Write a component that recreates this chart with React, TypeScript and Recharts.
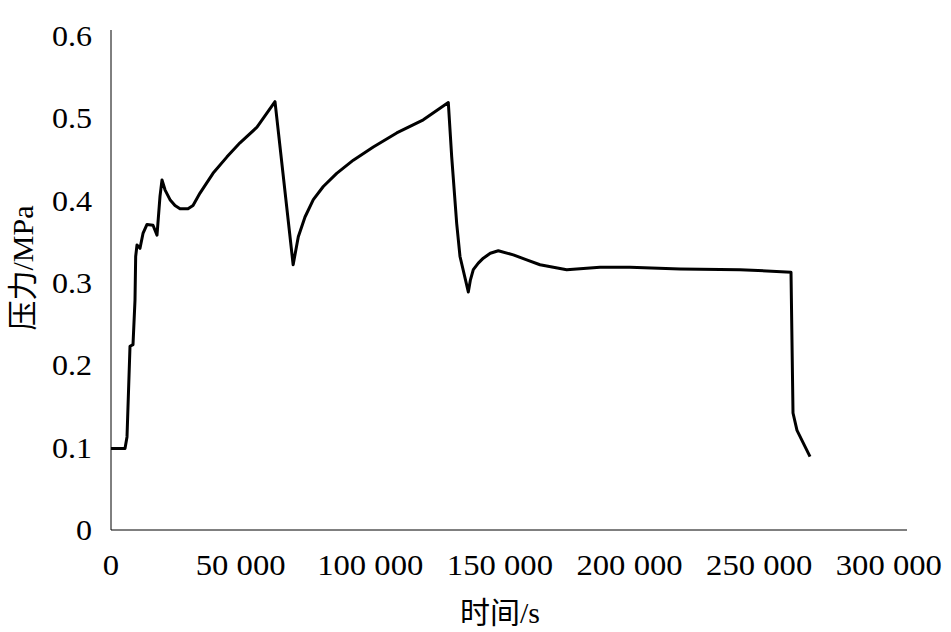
import React from 'react';
import { LineChart, Line, XAxis, YAxis, Label } from 'recharts';

const timeS = [0, 5399, 6171, 7328, 8485, 9256, 9517, 10028, 11185, 12342, 13885, 16199, 17742, 18898, 19670, 20827, 22755, 24684, 26612, 29698, 31626, 34326, 39340, 44739, 49753, 56309, 63251, 70250, 72238, 74823, 78024, 81881, 87049, 93451, 101165, 110189, 120448, 130090, 131402, 133330, 134603, 137804, 138575, 139732, 141661, 143589, 146289, 149374, 155160, 160328, 165457, 175755, 188598, 200167, 219457, 242595, 262264, 263036, 264578, 269592];
const pressureMPa = [0.099, 0.099, 0.113, 0.223, 0.225, 0.279, 0.332, 0.346, 0.342, 0.36, 0.371, 0.37, 0.358, 0.405, 0.425, 0.413, 0.401, 0.394, 0.39, 0.39, 0.394, 0.409, 0.433, 0.453, 0.47, 0.489, 0.52, 0.322, 0.356, 0.38, 0.401, 0.417, 0.433, 0.449, 0.465, 0.482, 0.498, 0.519, 0.453, 0.372, 0.332, 0.289, 0.303, 0.316, 0.324, 0.33, 0.336, 0.339, 0.334, 0.328, 0.322, 0.316, 0.319, 0.319, 0.317, 0.316, 0.313, 0.142, 0.121, 0.089];
const xTicks = [0, 50000, 100000, 150000, 200000, 250000, 300000];
const yTicks = [0, 0.1, 0.2, 0.3, 0.4, 0.5, 0.6];
const xLabel = '时间/s';
const yLabel = '压力/MPa';

const data = timeS.map((t, i) => ({ t, p: pressureMPa[i] }));

const SERIF = 'Liberation Serif';
const LABEL_FONT = "Liberation Serif, Noto Sans CJK SC";

const fmtX = (v: number) => (v === 0 ? '0' : `${Math.round(v / 1000)} 000`);
const fmtY = (v: number) => (v === 0 ? '0' : String(Math.round(v * 10) / 10));

const XTick = (props: any) => {
  const { x, y, payload } = props;
  const ty = y + 45;
  return (
    <text
      x={x}
      y={ty}
      textAnchor="middle"
      fontSize={30}
      fontFamily={SERIF}
      fill="#000"
      transform={`translate(${x} ${ty}) scale(1.09 1) translate(${-x} ${-ty})`}
    >
      {fmtX(payload.value)}
    </text>
  );
};

const YTick = (props: any) => {
  const { x, y, payload } = props;
  const tx = x - 19;
  const ty = y + 10;
  return (
    <text
      x={tx}
      y={ty}
      textAnchor="end"
      fontSize={30}
      fontFamily={SERIF}
      fill="#000"
      transform={`translate(${tx} ${ty}) scale(1.07 1) translate(${-tx} ${-ty})`}
    >
      {fmtY(payload.value)}
    </text>
  );
};

export default function App() {
  return (
    <div style={{ position: 'absolute', left: 0, top: 0, background: '#fff' }}>
      <LineChart width={951} height={632} data={data} margin={{ top: 30, right: 44, bottom: 0, left: 0 }}>
        <XAxis
          dataKey="t"
          type="number"
          domain={[0, 307000]}
          ticks={xTicks}
          tickLine={false}
          tickSize={0}
          tickMargin={0}
          height={102}
          axisLine={{ stroke: '#000', strokeWidth: 1 }}
          tick={<XTick />}
          interval={0}
        >
          <Label
            content={() => (
              <text x={500} y={623} textAnchor="middle" fontSize={30} fontFamily={LABEL_FONT} fill="#000">
                {xLabel}
              </text>
            )}
          />
        </XAxis>
        <YAxis
          type="number"
          domain={[0, 0.607]}
          ticks={yTicks}
          tickLine={false}
          tickSize={0}
          tickMargin={0}
          width={111}
          axisLine={{ stroke: '#000', strokeWidth: 1 }}
          tick={<YTick />}
          interval={0}
        >
          <Label
            content={() => (
              <text x={33} y={268} transform="rotate(-90 33 268)" textAnchor="middle" fontSize={30} fontFamily={LABEL_FONT} fill="#000">
                {yLabel}
              </text>
            )}
          />
        </YAxis>
        <Line type="linear" dataKey="p" stroke="#000" strokeWidth={3} strokeLinejoin="round" dot={false} isAnimationActive={false} />
      </LineChart>
    </div>
  );
}
